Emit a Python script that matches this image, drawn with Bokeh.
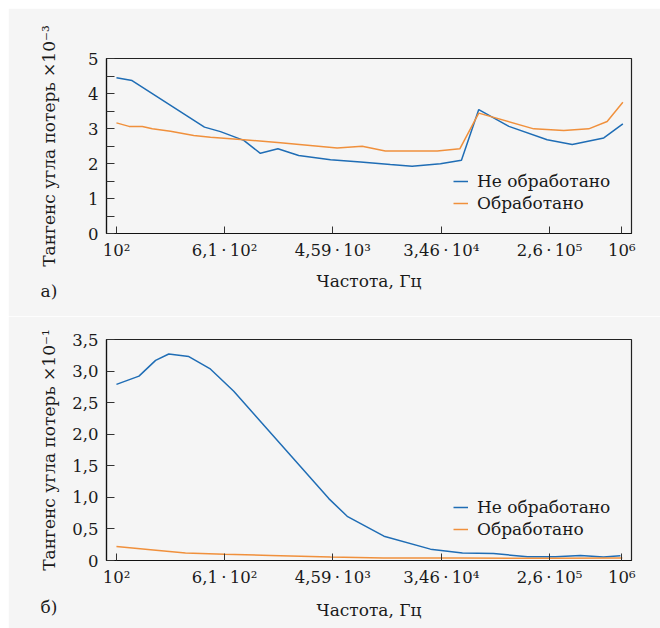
from bokeh.plotting import figure
from bokeh.layouts import column
from bokeh.models import Range1d, FixedTicker, Title
from bokeh.embed import file_html
from bokeh.resources import INLINE

# ---------------- data ----------------
# Panel a) loss tangent x1e-3
a_untreated_f = [81.5, 109, 420, 566, 874, 1190, 1650, 2430, 4400, 7690, 13400,
                 20100, 34100, 50400, 69600, 122000, 249000, 397000, 715000, 1020000]
a_untreated_v = [4.45, 4.37, 3.04, 2.91, 2.66, 2.29, 2.42, 2.23, 2.11, 2.04, 1.97,
                 1.92, 1.99, 2.09, 3.54, 3.06, 2.68, 2.54, 2.73, 3.13]
a_treated_f = [81.5, 103, 132, 159, 223, 344, 470, 874, 1730, 4980, 7930, 12200,
               32100, 48900, 69600, 194000, 339000, 540000, 761000, 1020000]
a_treated_v = [3.16, 3.06, 3.06, 2.99, 2.92, 2.80, 2.75, 2.68, 2.59, 2.44, 2.49, 2.36,
               2.36, 2.42, 3.44, 2.99, 2.94, 2.99, 3.20, 3.75]

# Panel б) loss tangent x1e-1
b_untreated_f = [81.5, 124, 169, 216, 314, 464, 725, 4260, 6000, 11900, 28300,
                 51400, 91600, 173000, 291000, 463000, 711000, 975000]
b_untreated_v = [2.79, 2.92, 3.17, 3.27, 3.23, 3.04, 2.68, 0.98, 0.70, 0.385, 0.18,
                 0.12, 0.11, 0.06, 0.06, 0.08, 0.055, 0.075]
b_treated_f = [81.5, 154, 295, 610, 1440, 4400, 11800, 49500, 260000, 1010000]
b_treated_v = [0.22, 0.17, 0.12, 0.10, 0.08, 0.055, 0.04, 0.04, 0.035, 0.04]

x_ticks = [81.5, 610.0, 4590.0, 34600.0, 260000.0, 1000000.0]
x_tick_labels = ["10²", "6,1\u2009·\u200910²", "4,59\u2009·\u200910³",
                 "3,46\u2009·\u200910⁴", "2,6\u2009·\u200910⁵", "10⁶"]

a_y_ticks = [0, 1, 2, 3, 4, 5]
a_y_minor = [0.5, 1.5, 2.5, 3.5, 4.5]
b_y_ticks = [0, 0.5, 1.0, 1.5, 2.0, 2.5, 3.0, 3.5]
b_y_labels = ["0", "0,5", "1,0", "1,5", "2,0", "2,5", "3,0", "3,5"]

series_names = ["Не обработано", "Обработано"]
x_title = "Частота, Гц"
a_y_title = "Тангенс угла потерь ×10⁻³"
b_y_title = "Тангенс угла потерь ×10⁻¹"

# ---------------- style ----------------
FONT = "DejaVu Serif"
FS = "17px"
TFS = "16.5px"
BG = "#f5f5f5"
BLUE = "#1f6db5"
ORANGE = "#f0903c"
TXT = "#1a1a1a"
X_RANGE = (67.7, 1.198e6)


def make_panel(height, top, bottom, y_max, y_ticks, y_minor, y_overrides, y_title,
               ylab_standoff, xlab_standoff, un_f, un_v, tr_f, tr_v, tag, tag_standoff,
               leg_y):
    p = figure(width=652, height=height, x_axis_type="log",
               x_range=Range1d(*X_RANGE), y_range=Range1d(0, y_max),
               output_backend="svg", toolbar_location=None,
               background_fill_color=BG, border_fill_color=BG,
               min_border_left=98, min_border_right=29, min_border_top=top,
               min_border_bottom=bottom)
    p.grid.visible = False
    p.outline_line_color = "#222222"
    p.outline_line_width = 1.2

    p.line(un_f, un_v, color=BLUE, line_width=1.5, legend_label=series_names[0])
    p.line(tr_f, tr_v, color=ORANGE, line_width=1.5, legend_label=series_names[1])

    xa = p.xaxis[0]
    xa.ticker = FixedTicker(ticks=x_ticks)
    xa.major_label_overrides = {t: l for t, l in zip(x_ticks, x_tick_labels)}
    xa.major_tick_in = 7
    xa.major_tick_out = 0
    xa.minor_tick_line_color = None
    xa.axis_label = x_title
    xa.axis_label_standoff = xlab_standoff
    xa.major_label_standoff = 7

    ya = p.yaxis[0]
    ya.ticker = FixedTicker(ticks=y_ticks, minor_ticks=y_minor)
    if y_overrides:
        ya.major_label_overrides = y_overrides
    ya.major_tick_in = 8
    ya.major_tick_out = 0
    ya.minor_tick_in = 8
    ya.minor_tick_out = 0
    ya.minor_tick_line_color = "#333333"
    ya.axis_label = y_title
    ya.axis_label_standoff = ylab_standoff
    ya.major_label_standoff = 8

    for ax in (xa, ya):
        ax.axis_line_color = "#111111"
        ax.axis_line_width = 1.2
        ax.major_tick_line_color = "#333333"
        ax.major_label_text_font = FONT
        ax.major_label_text_font_size = TFS
        ax.major_label_text_color = TXT
        ax.axis_label_text_font = FONT
        ax.axis_label_text_font_size = FS
        ax.axis_label_text_font_style = "normal"
        ax.axis_label_text_color = TXT

    lg = p.legend[0]
    lg.location = (347, leg_y)
    lg.background_fill_alpha = 0
    lg.border_line_color = None
    lg.padding = 0
    lg.margin = 0
    lg.spacing = 2
    lg.glyph_width = 15
    lg.glyph_height = 20
    lg.label_height = 20
    lg.label_standoff = 9
    lg.label_text_font = FONT
    lg.label_text_font_size = FS
    lg.label_text_color = TXT

    p.add_layout(Title(text=tag, align="left", offset=-66, standoff=tag_standoff,
                       vertical_align="top",
                       text_font=FONT, text_font_size=FS,
                       text_font_style="normal", text_color=TXT), "below")
    return p


b_overrides = {float(t): l for t, l in zip(b_y_ticks, b_y_labels)}

p1 = make_panel(308, 50, 83, 5, a_y_ticks, a_y_minor, None, a_y_title, 26, 8,
                a_untreated_f, a_untreated_v, a_treated_f, a_treated_v, "а)", -25, 20)
p2 = make_panel(312, 23, 68, 3.5, b_y_ticks, [], b_overrides, b_y_title, 10, 10,
                b_untreated_f, b_untreated_v, b_treated_f, b_treated_v, "б)", -51, 21)

layout = column(p1, p2, spacing=0, margin=(8, 0, 0, 8))
open("out.html", "w").write(file_html(layout, INLINE))
